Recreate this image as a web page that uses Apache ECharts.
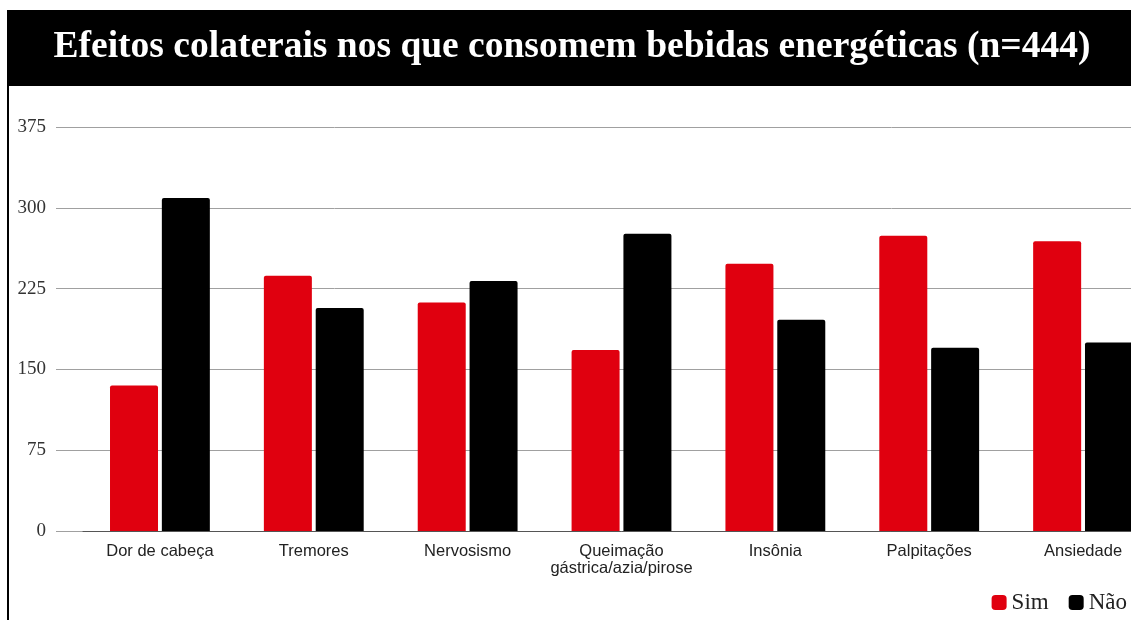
<!DOCTYPE html>
<html>
<head>
<meta charset="utf-8">
<script src="https://cdn.jsdelivr.net/npm/echarts@6/dist/echarts.min.js"></script>
<style>html,body{margin:0;padding:0;background:#fff;overflow:hidden;width:1131px;height:620px}#c{width:1170px;height:620px}</style>
</head>
<body>
<div id="c"></div>
<script>
const titleText = 'Efeitos colaterais nos que consomem bebidas energéticas (n=444)';
const categories = ['Dor de cabeça','Tremores','Nervosismo','Queimação\ngástrica/azia/pirose','Insônia','Palpitações','Ansiedade'];
const simValues = [135, 237, 212, 168, 248, 274, 269];
const naoValues = [309, 207, 232, 276, 196, 170, 175];
const yTicks = [0, 75, 150, 225, 300, 375];

const chart = echarts.init(document.getElementById('c'));
const yMin = yTicks[0], yMax = yTicks[yTicks.length-1], yInt = yTicks[1]-yTicks[0];
chart.setOption({
  animation: false,
  graphic: [
    { type:'rect', left:7, top:10, shape:{width:1163, height:76}, style:{fill:'#000'}, z:0 },
    { type:'rect', left:7, top:86, shape:{width:2, height:534}, style:{fill:'#000'}, z:0 },
    { type:'text', x:572, y:47, style:{text:titleText, fill:'#fff', align:'center', verticalAlign:'middle', font:'bold 37.5px "Liberation Serif", "Times New Roman", serif'}, z:2 }
  ],
  grid: [
    { left:56, right:0, top:127, bottom:89, containLabel:false },
    { left:83, width:1077, top:127, bottom:89, containLabel:false }
  ],
  xAxis: [
    { type:'category', gridIndex:0, data:categories, show:false },
    { type:'category', gridIndex:1, data:categories,
      axisLine:{show:true, lineStyle:{color:'#555', width:1}},
      axisTick:{show:false},
      axisLabel:{color:'#222', fontFamily:'"Liberation Sans", Arial, sans-serif', fontSize:16.5, margin:12, lineHeight:17, interval:0}
    }
  ],
  yAxis: [
    { type:'value', gridIndex:0, min:yMin, max:yMax, interval:yInt,
      axisLine:{show:false}, axisTick:{show:false},
      axisLabel:{color:'#333', fontFamily:'"Liberation Serif", "Times New Roman", serif', fontSize:19, margin:10},
      splitLine:{lineStyle:{color:'#a0a0a0', width:1}}
    },
    { type:'value', gridIndex:1, min:yMin, max:yMax, interval:yInt, show:false, splitLine:{show:false} }
  ],
  legend: {
    right:38, bottom:1, itemWidth:15, itemHeight:15, itemGap:20, icon:'roundRect',
    textStyle:{color:'#222', fontFamily:'"Liberation Serif", "Times New Roman", serif', fontSize:23},
    data:['Sim','Não']
  },
  series: [
    { name:'Sim', type:'bar', xAxisIndex:1, yAxisIndex:1, data:simValues, barWidth:48, barGap:'8%',
      itemStyle:{color:'#e0000f', borderRadius:[2,2,0,0]} },
    { name:'Não', type:'bar', xAxisIndex:1, yAxisIndex:1, data:naoValues, barWidth:48, barGap:'8%',
      itemStyle:{color:'#000', borderRadius:[2,2,0,0]} }
  ]
});
</script>
</body>
</html>
